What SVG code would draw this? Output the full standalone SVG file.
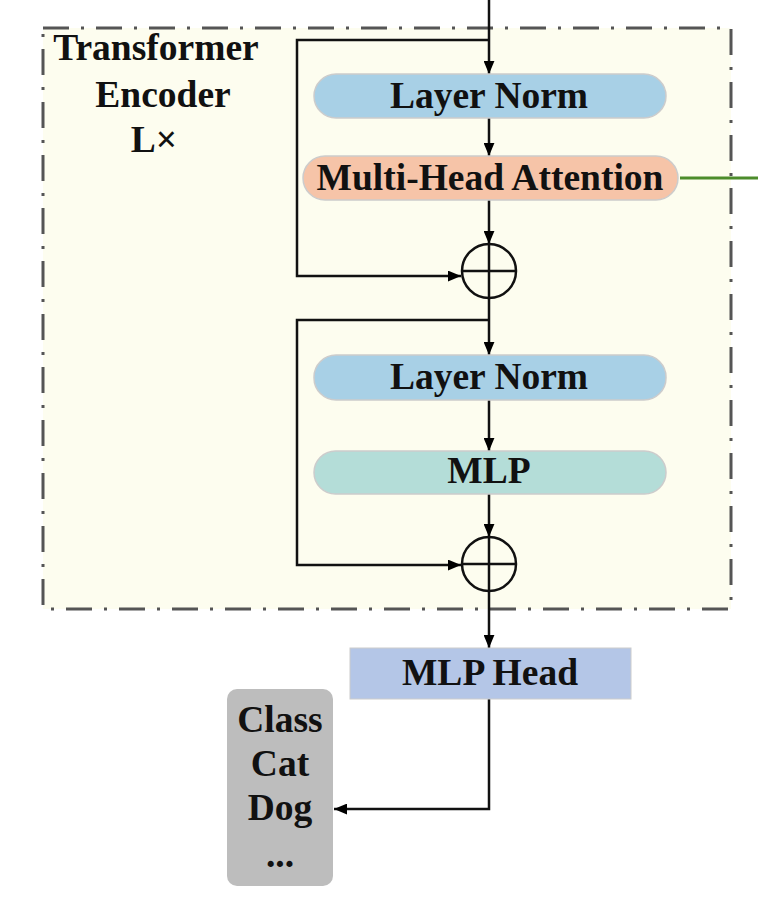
<svg xmlns="http://www.w3.org/2000/svg" width="758" height="916" viewBox="0 0 758 916">
<defs>
<marker id="ah" viewBox="0 0 12 10" refX="12" refY="5" markerWidth="13" markerHeight="11" markerUnits="userSpaceOnUse" orient="auto">
<path d="M0,0 L12,5 L0,10 Z" fill="#000"/>
</marker>
</defs>
<style>
.t{font-family:"Liberation Serif","Times New Roman",serif;font-weight:bold;font-size:37.5px;fill:#111;text-anchor:middle}
.ln{fill:none;stroke:#111;stroke-width:2.5}
.pill{stroke:#ccc;stroke-width:1.5}
</style>
<rect id="encoder" x="43" y="28" width="688" height="581" fill="#fdfdef" stroke="#555" stroke-width="3" stroke-dasharray="26 12 3 12"/>
<g id="encoder-label">
<text class="t" x="156" y="60">Transformer</text>
<text class="t" x="163" y="107">Encoder</text>
<text class="t" x="154" y="152">L×</text>
</g>
<g id="connectors">
<line class="ln" x1="489" y1="0" x2="489" y2="74" marker-end="url(#ah)"/>
<polyline class="ln" points="489,40 297,40 297,276 461,276" marker-end="url(#ah)"/>
<line class="ln" x1="489" y1="118" x2="489" y2="156" marker-end="url(#ah)"/>
<line class="ln" x1="489" y1="200" x2="489" y2="244" marker-end="url(#ah)"/>
<line class="ln" x1="489" y1="298" x2="489" y2="355" marker-end="url(#ah)"/>
<polyline class="ln" points="489,320 297,320 297,565 461,565" marker-end="url(#ah)"/>
<line class="ln" x1="489" y1="400" x2="489" y2="451" marker-end="url(#ah)"/>
<line class="ln" x1="489" y1="494" x2="489" y2="537" marker-end="url(#ah)"/>
<line class="ln" x1="489" y1="591" x2="489" y2="648" marker-end="url(#ah)"/>
<polyline class="ln" points="489,699 489,809 334,809" marker-end="url(#ah)"/>
<line x1="680" y1="178" x2="758" y2="178" stroke="#4c8c2b" stroke-width="3"/>
</g>
<g id="layernorm1">
<rect class="pill" x="314" y="74" width="352" height="44" rx="22" fill="#a8d0e6"/>
<text class="t" x="489" y="108">Layer Norm</text>
</g>
<g id="mha">
<rect class="pill" x="303" y="156" width="375" height="44" rx="22" fill="#f6c4a8"/>
<text class="t" x="490" y="190">Multi-Head Attention</text>
</g>
<g id="add1">
<circle cx="489" cy="271" r="27" fill="none" stroke="#111" stroke-width="2.5"/>
<line x1="462" y1="271" x2="516" y2="271" stroke="#111" stroke-width="2.5"/>
<line x1="489" y1="244" x2="489" y2="298" stroke="#111" stroke-width="2.5"/>
</g>
<g id="layernorm2">
<rect class="pill" x="314" y="355" width="352" height="45" rx="22" fill="#a8d0e6"/>
<text class="t" x="489" y="389">Layer Norm</text>
</g>
<g id="mlp">
<rect class="pill" x="314" y="451" width="352" height="43" rx="21.5" fill="#b4ddd8"/>
<text class="t" x="489" y="483">MLP</text>
</g>
<g id="add2">
<circle cx="489" cy="564" r="27" fill="none" stroke="#111" stroke-width="2.5"/>
<line x1="462" y1="564" x2="516" y2="564" stroke="#111" stroke-width="2.5"/>
<line x1="489" y1="537" x2="489" y2="591" stroke="#111" stroke-width="2.5"/>
</g>
<g id="mlphead">
<rect x="350" y="648" width="281" height="51" fill="#b4c6e7" stroke="#ccc" stroke-width="1"/>
<text class="t" x="490" y="685">MLP Head</text>
</g>
<g id="classes">
<rect x="227" y="689" width="106" height="197" rx="10" fill="#bdbdbd"/>
<text class="t" x="280" y="732">Class</text>
<text class="t" x="280" y="776">Cat</text>
<text class="t" x="280" y="820">Dog</text>
<text class="t" x="280" y="867">...</text>
</g>
</svg>
